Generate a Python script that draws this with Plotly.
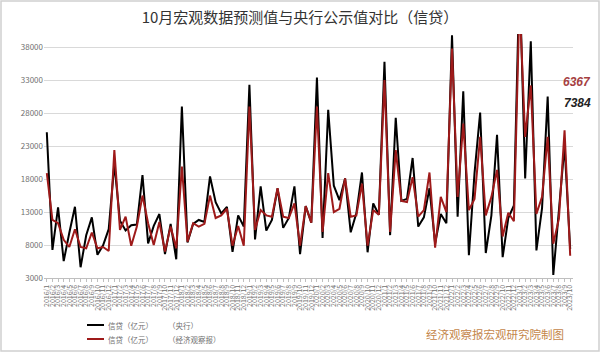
import plotly.graph_objects as go

# ---- data (亿元), monthly Jan 2016 .. Oct 2023 ----
years = [2016, 2017, 2018, 2019, 2020, 2021, 2022, 2023]
months = list(range(1, 13))
tick_labels = [f"{y}/{m}" for y in years for m in months][:94]

pboc = [
    25100, 7266, 13700, 5556, 9855, 13800, 4636, 9487, 12200, 6513, 7946, 10400,
    20300, 11700, 10200, 11000, 11100, 18600, 8255, 10900, 12700, 6632, 11200, 5844,
    29000, 8393, 11200, 11800, 11500, 18400, 14500, 12800, 13800, 6970, 12500, 10800,
    32300, 8858, 16900, 10200, 11800, 16600, 10600, 12100, 16900, 6613, 13900, 11400,
    33400, 9057, 28500, 17000, 14800, 18100, 9927, 12800, 19000, 6898, 14300, 12600,
    35800, 9500, 27300, 14700, 15000, 21200, 10800, 12200, 16600, 8262, 12700, 11300,
    39800, 12300, 31300, 6454, 18900, 28100, 6790, 12500, 24700, 6152, 12100, 14000,
    49000, 18100, 38900, 7188, 13600, 30500, 3459, 13600, 23100, 7384,
]
eeo = [
    18900, 11800, 11300, 8800, 7700, 10400, 7700, 7500, 9900, 7500, 7700, 7100,
    22400, 10300, 12300, 7900, 10800, 15500, 11300, 8000, 11500, 7000, 10800, 7500,
    19900, 8500, 11300, 10800, 11200, 15500, 12100, 12500, 13500, 7900, 10900, 7900,
    29000, 10300, 13300, 12500, 12300, 16600, 12300, 12100, 14300, 7900, 13900, 11400,
    29000, 10000, 18900, 13000, 13500, 18100, 12300, 12500, 17300, 7900, 13300, 12600,
    33000, 10000, 22400, 14700, 14500, 18300, 12300, 13300, 19000, 7600, 15300, 13000,
    37800, 15300, 26400, 13300, 15000, 24400, 12500, 15300, 19400, 9300, 12900, 11600,
    45000, 24400, 32200, 12700, 15300, 24400, 8200, 12000, 25400, 6367,
]
y_ticks = [3000, 8000, 13000, 18000, 23000, 28000, 33000, 38000]
y_tick_text = [str(v) for v in y_ticks]
x_idx = list(range(len(tick_labels)))

legend_label = "信贷（亿元）"
legend_src = ["（央行）", "（经济观察报）"]
title = "10月宏观数据预测值与央行公示值对比（信贷）"
footer = "经济观察报宏观研究院制图"

FONT = "Noto Sans CJK SC, Noto Sans, sans-serif"
C_BLACK = "#000000"
C_RED = "#9e1a1a"

fig = go.Figure()
fig.add_trace(go.Scatter(x=x_idx, y=pboc, mode="lines", name=legend_label + legend_src[0],
                         line=dict(color=C_BLACK, width=2)))
fig.add_trace(go.Scatter(x=x_idx, y=eeo, mode="lines", name=legend_label + legend_src[1],
                         line=dict(color=C_RED, width=2)))

L, R, T, B = 44, 27, 34, 78
fig.update_layout(
    width=600, height=356,
    margin=dict(l=L, r=R, t=T, b=B),
    paper_bgcolor="white", plot_bgcolor="white",
    font=dict(family=FONT, color="#595959"),
    title=dict(text=title, x=0.5, xanchor="center", y=1 - 18 / 356, yanchor="middle",
               font=dict(size=15, color="#333333", family=FONT)),
    showlegend=False,
    xaxis=dict(range=[-0.5, 93.5], tickmode="array", tickvals=x_idx, ticktext=tick_labels,
               tickangle=-90, tickfont=dict(size=7, color="#707070"),
               showgrid=False, showline=True, linecolor="#bfbfbf", linewidth=1,
               ticks="outside", ticklen=3, tickcolor="#bfbfbf", zeroline=False),
    yaxis=dict(range=[3000, 40000], tickmode="array", tickvals=y_ticks, ticktext=y_tick_text,
               tickfont=dict(size=8, color="#707070"), showgrid=True,
               gridcolor="#d9d9d9", gridwidth=1, zeroline=False, showline=False,
               ticks=""),
)

W = 600 - L - R
H = 356 - T - B
def px(x):
    return (x - L) / W
def py(y):
    return (356 - B - y) / H

fig.add_shape(type="rect", xref="paper", yref="paper",
              x0=px(1), x1=px(599), y0=py(351), y1=py(1),
              line=dict(color="#d0d0d0", width=1.5), layer="below")

# manual legend
for k, (col, yy) in enumerate([(C_BLACK, 325), (C_RED, 339)]):
    fig.add_shape(type="line", xref="paper", yref="paper",
                  x0=px(87), x1=px(104), y0=py(yy), y1=py(yy),
                  line=dict(color=col, width=2))
    fig.add_annotation(xref="paper", yref="paper", x=px(106), y=py(yy), text=legend_label,
                       showarrow=False, xanchor="left", yanchor="middle",
                       font=dict(size=7.5, color="#707070", family=FONT))
    fig.add_annotation(xref="paper", yref="paper", x=px(166), y=py(yy), text=legend_src[k],
                       showarrow=False, xanchor="left", yanchor="middle",
                       font=dict(size=7.5, color="#707070", family=FONT))

fig.add_annotation(xref="paper", yref="paper", x=px(593), y=py(82), text="<b><i>6367</i></b>",
                   showarrow=False, xanchor="right", yanchor="middle",
                   font=dict(size=12, color="#a5403f", family="Liberation Sans, Arial"))
fig.add_annotation(xref="paper", yref="paper", x=px(593), y=py(103), text="<b><i>7384</i></b>",
                   showarrow=False, xanchor="right", yanchor="middle",
                   font=dict(size=12, color="#222222", family="Liberation Sans, Arial"))
fig.add_annotation(xref="paper", yref="paper", x=px(566), y=py(334), text=footer,
                   showarrow=False, xanchor="right", yanchor="middle",
                   font=dict(size=11.5, color="#c4864a", family=FONT))

fig.write_html("out.html", post_script="document.body.style.margin='0';",
               config={"displayModeBar": False})
